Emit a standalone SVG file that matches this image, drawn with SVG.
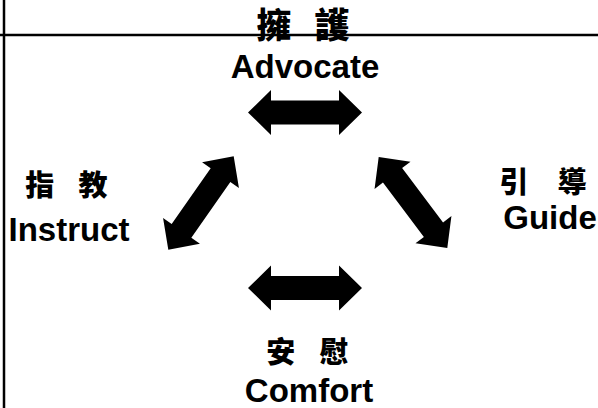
<svg xmlns="http://www.w3.org/2000/svg" width="598" height="408" viewBox="0 0 598 408">
  <defs>
    <path id="dblArrow" d="M -57 0 L -34 -22.5 L -34 -12 L 34 -12 L 34 -22.5 L 57 0 L 34 22.5 L 34 12 L -34 12 L -34 22.5 Z"/>
  </defs>
  <style>
    .frame { stroke: #000; stroke-width: 2.5; fill: none; }
    .arrow { fill: #000; }
    .cjk { font-family: "Noto Sans CJK TC", "Noto Sans CJK SC", sans-serif; font-weight: 900; fill: #000; text-anchor: middle; }
    .en { font-family: "Liberation Sans", Arial, sans-serif; font-weight: bold; font-size: 33px; fill: #000; text-anchor: middle; }
  </style>
  <rect width="598" height="408" fill="#fff"/>
  <g id="frame">
    <line class="frame" x1="4" y1="0" x2="4" y2="408"/>
    <line class="frame" x1="0" y1="35" x2="598" y2="35"/>
  </g>
  <g id="connectors">
    <use href="#dblArrow" class="arrow" transform="translate(305 112.5)"/>
    <use href="#dblArrow" class="arrow" transform="translate(201 203) rotate(-55)"/>
    <use href="#dblArrow" class="arrow" transform="translate(413 202.5) rotate(53)"/>
    <use href="#dblArrow" class="arrow" transform="translate(305 288)"/>
  </g>
  <g id="advocate">
    <text class="cjk" font-size="35" y="38"><tspan x="278">擁</tspan> <tspan x="332">護</tspan></text>
    <text class="en" x="305" y="78">Advocate</text>
  </g>
  <g id="instruct">
    <text class="cjk" font-size="29" y="196"><tspan x="43">指</tspan> <tspan x="93">教</tspan></text>
    <text class="en" x="69" y="241">Instruct</text>
  </g>
  <g id="guide">
    <text class="cjk" font-size="29" y="193"><tspan x="517">引</tspan> <tspan x="572">導</tspan></text>
    <text class="en" x="550" y="229">Guide</text>
  </g>
  <g id="comfort">
    <text class="cjk" font-size="29" y="363"><tspan x="284">安</tspan> <tspan x="334">慰</tspan></text>
    <text class="en" x="309" y="402">Comfort</text>
  </g>
</svg>
